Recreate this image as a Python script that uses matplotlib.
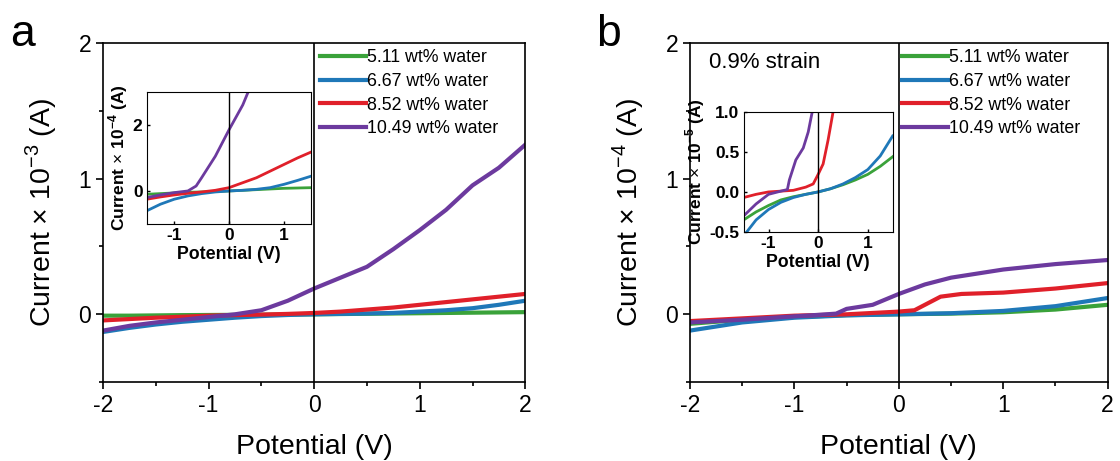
import numpy as np
import matplotlib
matplotlib.use('Agg')
import matplotlib.pyplot as plt

plt.rcParams['font.family'] = ['Liberation Sans', 'DejaVu Sans']
plt.rcParams['mathtext.fontset'] = 'custom'
plt.rcParams['mathtext.rm'] = 'Liberation Sans'
plt.rcParams['mathtext.bf'] = 'Liberation Sans:bold'
plt.rcParams['axes.unicode_minus'] = False

labels = ['5.11 wt% water', '6.67 wt% water', '8.52 wt% water', '10.49 wt% water']
colors = ['#3aa23a', '#1f78b8', '#e0202a', '#6c3a9e']

# panel a, main (x 1e-3 A)
xa = [-2, -1.75, -1.5, -1.25, -1, -0.75, -0.5, -0.25, 0, 0.25, 0.5, 0.75, 1, 1.25, 1.5, 1.75, 2]
a_green = [-0.01, -0.01, -0.008, -0.006, -0.005, -0.004, -0.003, -0.001, 0, 0.002, 0.004, 0.006, 0.008, 0.01, 0.012, 0.014, 0.016]
a_blue = [-0.13, -0.1, -0.075, -0.055, -0.04, -0.025, -0.013, -0.005, 0, 0.003, 0.006, 0.01, 0.02, 0.03, 0.045, 0.07, 0.1]
a_red = [-0.045, -0.035, -0.025, -0.018, -0.01, -0.006, -0.002, 0.003, 0.01, 0.02, 0.035, 0.05, 0.07, 0.09, 0.11, 0.13, 0.15]
a_purple = [-0.12, -0.085, -0.06, -0.04, -0.02, 0, 0.03, 0.1, 0.19, 0.27, 0.35, 0.48, 0.62, 0.77, 0.95, 1.08, 1.25]

# panel a, inset (x 1e-4 A)
xai = [-1.5, -1.25, -1, -0.75, -0.5, -0.25, 0, 0.25, 0.5, 0.75, 1, 1.25, 1.5]
ai_green = [-0.1, -0.08, -0.06, -0.04, -0.03, -0.015, 0, 0.02, 0.04, 0.06, 0.08, 0.09, 0.1]
ai_blue = [-0.6, -0.4, -0.25, -0.15, -0.08, -0.03, 0, 0.02, 0.05, 0.1, 0.2, 0.32, 0.45]
ai_red = [-0.25, -0.18, -0.12, -0.07, -0.03, 0.02, 0.1, 0.25, 0.4, 0.6, 0.8, 1.0, 1.18]
xai_p = [-1.5, -1.25, -1, -0.75, -0.6, -0.5, -0.25, 0, 0.25, 0.4]
ai_purple = [-0.2, -0.12, -0.05, 0, 0.15, 0.4, 1.05, 1.85, 2.6, 3.2]

# panel b, main (x 1e-4 A)
xb = [-2, -1.5, -1, -0.5, 0, 0.5, 1, 1.5, 2]
b_green = [-0.07, -0.04, -0.02, -0.006, 0, 0.005, 0.015, 0.035, 0.07]
b_blue = [-0.12, -0.06, -0.025, -0.008, 0, 0.008, 0.025, 0.06, 0.12]
xb_r = [-2, -1.5, -1, -0.5, 0, 0.15, 0.25, 0.4, 0.6, 1, 1.5, 2]
b_red = [-0.05, -0.03, -0.01, 0.0, 0.02, 0.03, 0.07, 0.13, 0.15, 0.16, 0.19, 0.23]
xb_p = [-2, -1.5, -1, -0.75, -0.6, -0.5, -0.25, 0, 0.25, 0.5, 1, 1.5, 2]
b_purple = [-0.06, -0.04, -0.015, -0.003, 0.005, 0.04, 0.07, 0.15, 0.22, 0.27, 0.33, 0.37, 0.40]

# panel b, inset (x 1e-5 A)
xbi = [-1.5, -1.25, -1, -0.75, -0.5, -0.25, 0, 0.25, 0.5, 0.75, 1, 1.25, 1.5]
bi_green = [-0.35, -0.25, -0.17, -0.1, -0.06, -0.03, 0, 0.04, 0.09, 0.15, 0.22, 0.32, 0.44]
bi_blue = [-0.55, -0.35, -0.22, -0.13, -0.07, -0.03, 0, 0.04, 0.1, 0.18, 0.28, 0.45, 0.7]
xbi_r = [-1.5, -1.25, -1, -0.75, -0.5, -0.25, -0.1, 0, 0.1, 0.2, 0.3]
bi_red = [-0.07, -0.03, 0, 0.01, 0.02, 0.06, 0.1, 0.22, 0.35, 0.65, 1.0]
xbi_p = [-1.5, -1.25, -1, -0.75, -0.62, -0.58, -0.45, -0.3, -0.2, -0.12]
bi_purple = [-0.3, -0.15, -0.03, 0.01, 0.03, 0.15, 0.4, 0.55, 0.75, 1.0]

fig = plt.figure(figsize=(11.2, 4.61), dpi=100)


def main_axes(rect, series, exp, letter, lx):
    ax = fig.add_axes(rect)
    for (x, y), c, lab in zip(series, colors, labels):
        ax.plot(x, y, color=c, lw=3, label=lab)
    ax.axvline(0, color='black', lw=1.2)
    ax.set_xlim(-2, 2)
    ax.set_ylim(-0.5, 2)
    ax.set_xticks([-2, -1, 0, 1, 2])
    ax.set_xticks(np.arange(-2, 2.01, 0.5), minor=True)
    ax.set_yticks([0, 1, 2])
    ax.set_yticks([-0.5, 0.5, 1.5], minor=True)
    ax.tick_params(which='both', direction='out', top=False, right=False, labelsize=16.5, width=1.2)
    ax.tick_params(which='major', length=5)
    ax.tick_params(which='minor', length=3)
    for s in ax.spines.values():
        s.set_linewidth(1.2)
    ax.set_xlabel('Potential (V)', fontsize=20.5, labelpad=12)
    ax.set_ylabel('Current $\\times$ 10$^{%d}$ (A)' % exp, fontsize=20.5, labelpad=14)
    ax.legend(loc='upper right', bbox_to_anchor=(0.95, 1.0), frameon=False, fontsize=12.8,
              handlelength=2.6, handletextpad=0.05, labelspacing=0.38,
              borderaxespad=0.15, borderpad=0.2)
    fig.text(lx, 0.9, letter, fontsize=32)
    return ax


def inset_axes(rect, series, exp, ylim, yticks, yfmt):
    ax = fig.add_axes(rect)
    for (x, y), c in zip(series, colors):
        ax.plot(x, y, color=c, lw=2)
    ax.axvline(0, color='black', lw=1)
    ax.set_xlim(-1.5, 1.5)
    ax.set_ylim(*ylim)
    ax.set_xticks([-1, 0, 1])
    ax.set_yticks(yticks)
    ax.set_yticklabels([yfmt % v for v in yticks])
    ax.tick_params(direction='in', length=2.5, labelsize=12.5, width=1, pad=3)
    for t in ax.get_xticklabels() + ax.get_yticklabels():
        t.set_fontweight('bold')
    ax.set_xlabel('Potential (V)', fontsize=12.8, fontweight='bold', labelpad=2)
    ax.set_ylabel('Current $\\times$ 10$^{\\mathbf{%d}}$ (A)' % exp, fontsize=12.5,
                  fontweight='bold', labelpad=2)
    return ax


main_axes([0.092, 0.171, 0.377, 0.736],
          [(xa, a_green), (xa, a_blue), (xa, a_red), (xa, a_purple)], -3, 'a', 0.009)
inset_axes([0.131, 0.514, 0.147, 0.287],
           [(xai, ai_green), (xai, ai_blue), (xai, ai_red), (xai_p, ai_purple)],
           -4, (-1, 3), [0, 2], '%d')

axb = main_axes([0.616, 0.171, 0.373, 0.736],
                [(xb, b_green), (xb, b_blue), (xb_r, b_red), (xb_p, b_purple)], -4, 'b', 0.532)
axb.text(0.045, 0.941, '0.9% strain', transform=axb.transAxes, fontsize=16, va='center')
inset_axes([0.664, 0.497, 0.133, 0.260],
           [(xbi, bi_green), (xbi, bi_blue), (xbi_r, bi_red), (xbi_p, bi_purple)],
           -5, (-0.5, 1.0), [-0.5, 0, 0.5, 1.0], '%.1f')

fig.savefig('out.png', dpi=100)
